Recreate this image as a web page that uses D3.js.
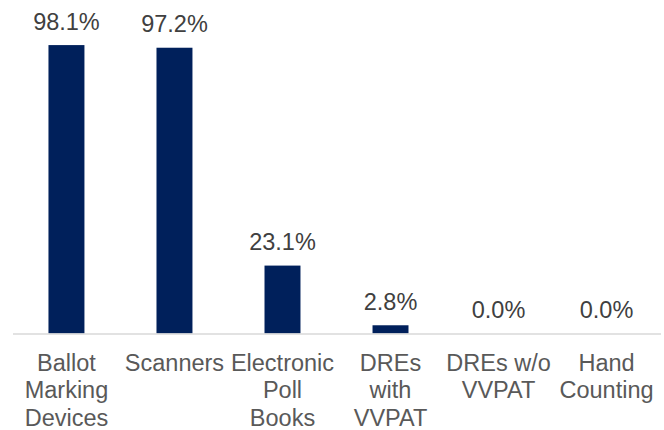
<!DOCTYPE html>
<html><head><meta charset="utf-8">
<script src="https://cdn.jsdelivr.net/npm/d3@7"></script>
<style>body{margin:0;background:#fff}svg{display:block}</style>
</head><body>
<script>
const categories = ["Ballot Marking Devices","Scanners","Electronic Poll Books","DREs with VVPAT","DREs w/o VVPAT","Hand Counting"];
const tickLines = [["Ballot","Marking","Devices"],["Scanners"],["Electronic","Poll","Books"],["DREs","with","VVPAT"],["DREs w/o","VVPAT"],["Hand","Counting"]];
const values = [98.1, 97.2, 23.1, 2.8, 0.0, 0.0];
const valueLabels = ["98.1%","97.2%","23.1%","2.8%","0.0%","0.0%"];

const W = 664, H = 430;
const svg = d3.select("body").append("svg").attr("width", W).attr("height", H);
const x = d3.scaleBand().domain(categories).range([12.5, 660.5]).paddingInner(0.667).paddingOuter(0.333);
const y = d3.scaleLinear().domain([0, 100]).range([333.5, 39.5]);
const font = "'Liberation Sans', Arial, sans-serif";

svg.append("g").selectAll("rect").data(values).join("rect")
  .attr("x", (d,i) => x(categories[i]))
  .attr("width", x.bandwidth())
  .attr("y", d => y(d))
  .attr("height", d => y(0) - y(d))
  .attr("fill", "#00205b");

const ax = svg.append("g").attr("transform", `translate(0,${y(0)})`)
  .call(d3.axisBottom(x).tickSize(0).tickSizeOuter(0));
ax.select(".domain").attr("stroke", "#d9d9d9").attr("stroke-width", 1.5);
ax.selectAll(".tick text").each(function(d, i) {
  const t = d3.select(this).text(null).attr("y", 0).attr("dy", null)
    .attr("fill", "#595959").style("font-family", font).style("font-size", "23.5px");
  tickLines[i].forEach((ln, j) => t.append("tspan").attr("x", 0).attr("y", 37.3 + j * 27.5).text(ln));
});

svg.append("g").selectAll("text").data(values).join("text")
  .attr("x", (d,i) => x(categories[i]) + x.bandwidth()/2)
  .attr("y", d => y(d) - 15.5)
  .attr("text-anchor", "middle")
  .attr("fill", "#404040")
  .style("font-family", font).style("font-size", "23.5px")
  .text((d,i) => valueLabels[i]);
</script>
</body></html>
